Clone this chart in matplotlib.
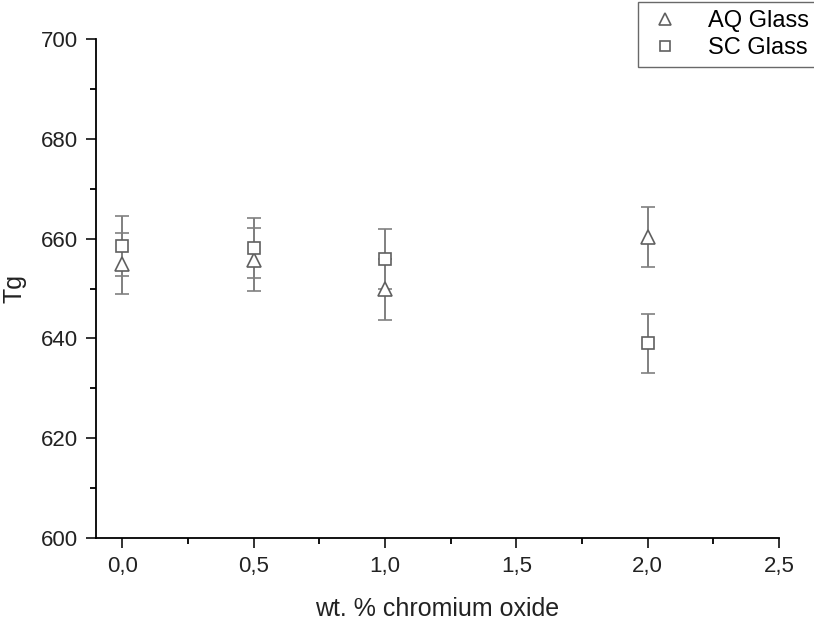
import matplotlib
matplotlib.use('Agg')
import matplotlib.pyplot as plt
from matplotlib.ticker import MultipleLocator, FuncFormatter

plt.rcParams['font.family'] = ['Liberation Sans', 'DejaVu Sans']

# data
cr_oxide = [0.0, 0.5, 1.0, 2.0]
tg_aq = [655.0, 655.8, 649.8, 660.3]
err_aq = [6.2, 6.3, 6.1, 6.0]
tg_sc = [658.5, 658.1, 656.0, 639.0]
err_sc = [6.0, 6.0, 6.0, 5.9]

fig = plt.figure(figsize=(8.14, 6.21), dpi=100)
ax = fig.add_axes([96/814, 1 - 538/621, (779 - 96)/814, (538 - 39)/621])

gray = '#606060'
ax.errorbar(cr_oxide, tg_aq, yerr=err_aq, fmt='^', ms=10, mfc='white', mec=gray,
            mew=1.2, ecolor='#808080', elinewidth=1.4, capsize=5, capthick=1.4,
            label='AQ Glass', zorder=3)
ax.errorbar(cr_oxide, tg_sc, yerr=err_sc, fmt='s', ms=9, mfc='white', mec=gray,
            mew=1.2, ecolor='#808080', elinewidth=1.4, capsize=5, capthick=1.4,
            label='SC Glass', zorder=3)

ax.set_xlim(-0.1, 2.5)
ax.set_ylim(600, 700)
ax.xaxis.set_major_locator(MultipleLocator(0.5))
ax.xaxis.set_minor_locator(MultipleLocator(0.25))
ax.yaxis.set_major_locator(MultipleLocator(20))
ax.yaxis.set_minor_locator(MultipleLocator(10))
ax.xaxis.set_major_formatter(FuncFormatter(lambda v, p: ('%.1f' % v).replace('.', ',')))

ax.spines['top'].set_visible(False)
ax.spines['right'].set_visible(False)
for s in ['left', 'bottom']:
    ax.spines[s].set_linewidth(1.3)
ax.tick_params(which='major', direction='out', length=7, width=1.3, labelsize=16,
               colors='#222222', pad=6)
ax.tick_params(which='minor', direction='out', length=4, width=1.3)

ax.set_xlabel('wt. % chromium oxide', fontsize=18, labelpad=14, color='#222222')
ax.set_ylabel('Tg', fontsize=18, labelpad=10, color='#222222')

handles, labels = ax.get_legend_handles_labels()
handles = [h[0] for h in handles]
leg = fig.legend(handles, labels, loc='upper left', bbox_to_anchor=(638/814, 1 - 2/621),
                 borderaxespad=0, fontsize=17, frameon=True, fancybox=False,
                 borderpad=0.35, handletextpad=1.0, labelspacing=0.2, handlelength=1.6,
                 markerscale=0.85)
leg.get_frame().set_edgecolor('#444444')
leg.get_frame().set_linewidth(1.0)

plt.savefig('out.png', dpi=100)
